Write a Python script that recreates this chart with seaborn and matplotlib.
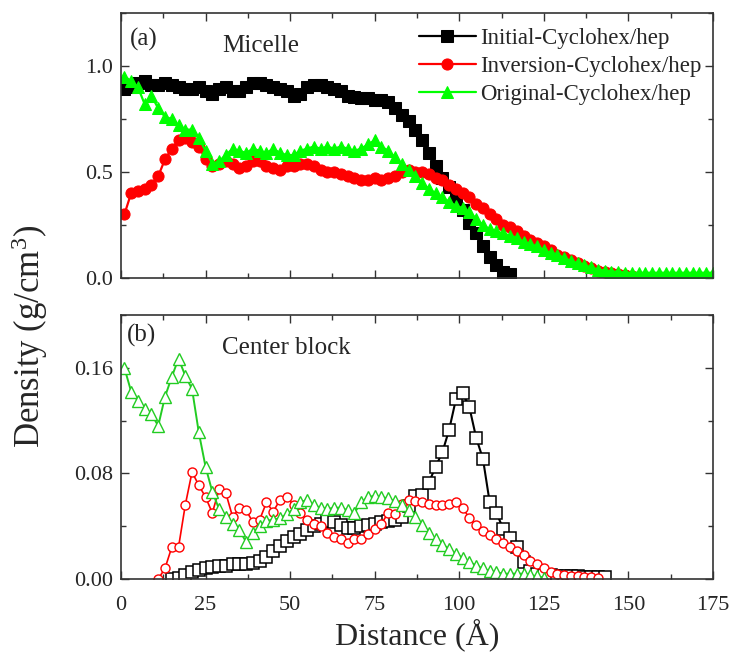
import numpy as np
import pandas as pd
import matplotlib
matplotlib.use("Agg")
import matplotlib.pyplot as plt
from matplotlib.ticker import MultipleLocator, FormatStrFormatter
import seaborn as sns

# ---------------- data ----------------
# (a) Micelle density profiles, 2 Å bins
micelle_initial = [0.89, 0.90, 0.92, 0.93, 0.91, 0.91, 0.92, 0.91, 0.90, 0.89,
                   0.89, 0.90, 0.88, 0.87, 0.89, 0.90, 0.88, 0.88, 0.90, 0.92,
                   0.92, 0.91, 0.90, 0.89, 0.88, 0.86, 0.87, 0.90, 0.91, 0.91,
                   0.90, 0.89, 0.88, 0.86, 0.855, 0.85, 0.85, 0.84, 0.84, 0.83,
                   0.80, 0.77, 0.74, 0.70, 0.65, 0.59, 0.53, 0.47, 0.43, 0.38,
                   0.32, 0.26, 0.21, 0.15, 0.10, 0.06, 0.03, 0.02]
micelle_inversion = [0.30, 0.40, 0.41, 0.42, 0.44, 0.48, 0.56, 0.61, 0.65, 0.66,
                     0.64, 0.62, 0.56, 0.53, 0.54, 0.55, 0.54, 0.52, 0.53, 0.55,
                     0.55, 0.53, 0.52, 0.51, 0.53, 0.53, 0.54, 0.54, 0.53, 0.51,
                     0.50, 0.50, 0.49, 0.48, 0.47, 0.46, 0.46, 0.47, 0.46, 0.47,
                     0.48, 0.50, 0.51, 0.50, 0.50, 0.49, 0.47, 0.46, 0.44, 0.42,
                     0.40, 0.38, 0.35, 0.33, 0.30, 0.28, 0.25, 0.24, 0.22, 0.20,
                     0.18, 0.165, 0.15, 0.13, 0.11, 0.10, 0.085, 0.07, 0.055, 0.045,
                     0.035, 0.028, 0.022, 0.018, 0.014, 0.010]
micelle_original = [0.95, 0.93, 0.90, 0.82, 0.86, 0.80, 0.76, 0.75, 0.72, 0.70,
                    0.70, 0.66, 0.60, 0.54, 0.55, 0.58, 0.61, 0.60, 0.59, 0.61,
                    0.60, 0.59, 0.61, 0.59, 0.58, 0.58, 0.60, 0.61, 0.62, 0.61,
                    0.62, 0.61, 0.62, 0.61, 0.60, 0.61, 0.63, 0.65, 0.62, 0.60,
                    0.57, 0.54, 0.51, 0.48, 0.45, 0.42, 0.40, 0.38, 0.36, 0.34,
                    0.33, 0.31, 0.28, 0.25, 0.23, 0.22, 0.21, 0.20, 0.19, 0.17,
                    0.16, 0.15, 0.13, 0.12, 0.11, 0.095, 0.08, 0.07, 0.06, 0.05,
                    0.04, 0.035, 0.03, 0.03, 0.025, 0.025, 0.025, 0.025, 0.025, 0.025,
                    0.025, 0.025, 0.025, 0.025, 0.025, 0.025, 0.025, 0.025]

# (b) Center block density profiles, 2 Å bins
center_initial = [0.000, 0.001, 0.003, 0.005, 0.007, 0.008, 0.009, 0.010, 0.010, 0.011,
                  0.011, 0.011, 0.012, 0.014, 0.017, 0.021, 0.025, 0.029, 0.032, 0.034,
                  0.037, 0.040, 0.042, 0.044, 0.043, 0.041, 0.039, 0.039, 0.040, 0.041,
                  0.042, 0.043, 0.044, 0.045, 0.047, 0.055, 0.063, 0.064, 0.073, 0.085,
                  0.096, 0.113, 0.136, 0.141, 0.130, 0.107, 0.091, 0.058, 0.050, 0.038,
                  0.031, 0.024, 0.013, 0.006, 0.004, 0.003, 0.003, 0.002, 0.002, 0.002,
                  0.002, 0.0015, 0.0015, 0.0015, 0.0015]
center_inversion = [0.000, 0.008, 0.024, 0.024, 0.056, 0.081, 0.071, 0.062, 0.050, 0.068,
                    0.065, 0.047, 0.054, 0.052, 0.043, 0.045, 0.058, 0.051, 0.060, 0.062,
                    0.056, 0.050, 0.045, 0.042, 0.040, 0.035, 0.032, 0.030, 0.027, 0.030,
                    0.030, 0.034, 0.038, 0.042, 0.050, 0.049, 0.057, 0.060, 0.059, 0.058,
                    0.057, 0.056, 0.056, 0.057, 0.058, 0.054, 0.046, 0.041, 0.036, 0.033,
                    0.030, 0.027, 0.024, 0.021, 0.018, 0.014, 0.011, 0.008, 0.005, 0.004,
                    0.003, 0.002, 0.002, 0.0015, 0.0015, 0.001]
center_original = [0.160, 0.142, 0.135, 0.129, 0.125, 0.116, 0.138, 0.153, 0.167, 0.154,
                   0.144, 0.111, 0.085, 0.066, 0.053, 0.047, 0.042, 0.037, 0.028, 0.035,
                   0.040, 0.044, 0.045, 0.046, 0.049, 0.053, 0.058, 0.060, 0.056, 0.054,
                   0.053, 0.054, 0.054, 0.052, 0.050, 0.058, 0.062, 0.063, 0.062, 0.061,
                   0.059, 0.056, 0.052, 0.047, 0.041, 0.035, 0.030, 0.026, 0.023, 0.019,
                   0.016, 0.013, 0.010, 0.008, 0.006, 0.005, 0.004, 0.004, 0.004, 0.004,
                   0.003, 0.002, 0.001]

# bin centres (Å)
x_mic_initial = np.arange(1, 1 + 2 * len(micelle_initial), 2)
x_mic_inversion = np.arange(1, 1 + 2 * len(micelle_inversion), 2)
x_mic_original = np.arange(1, 1 + 2 * len(micelle_original), 2)
x_cb_initial = np.arange(15, 15 + 2 * len(center_initial), 2)
x_cb_inversion = np.arange(11, 11 + 2 * len(center_inversion), 2)
x_cb_original = np.arange(1, 1 + 2 * len(center_original), 2)

labels = ["Initial-Cyclohex/hep", "Inversion-Cyclohex/hep", "Original-Cyclohex/hep"]

# ---------------- style ----------------
sns.set_style("ticks")
plt.rcParams["font.family"] = ["Liberation Serif", "DejaVu Serif"]
plt.rcParams["mathtext.fontset"] = "custom"
plt.rcParams["mathtext.rm"] = "Liberation Serif"
plt.rcParams["mathtext.it"] = "Liberation Serif:italic"
plt.rcParams["mathtext.default"] = "regular"

fig = plt.figure(figsize=(7.32, 6.56), dpi=100)
ax1 = fig.add_axes([0.1653, 0.5762, 0.8087, 0.4040])
ax2 = fig.add_axes([0.1653, 0.1174, 0.8087, 0.4024])

GREEN_TOP = "#00ff00"
GREEN_BOT = "#22cc22"

# ---- (a) Micelle ----
sns.lineplot(x=x_mic_initial, y=micelle_initial, ax=ax1, color="black", lw=1.6,
             marker="s", markersize=8, markeredgecolor="black", label=labels[0])
sns.lineplot(x=x_mic_inversion, y=micelle_inversion, ax=ax1, color="red", lw=1.6,
             marker="o", markersize=8, markeredgecolor="red", label=labels[1])
sns.lineplot(x=x_mic_original, y=micelle_original, ax=ax1, color=GREEN_TOP, lw=1.6,
             marker="^", markersize=9, markeredgecolor=GREEN_TOP, label=labels[2])

ax1.set_xlim(0, 175)
ax1.set_ylim(0, 1.25)
ax1.yaxis.set_major_locator(MultipleLocator(0.5))
ax1.yaxis.set_minor_locator(MultipleLocator(0.25))
ax1.yaxis.set_major_formatter(FormatStrFormatter("%.1f"))
ax1.text(0.015, 0.90, "(a)", transform=ax1.transAxes, fontsize=18, va="center", ha="left")
ax1.text(0.171, 0.875, "Micelle", transform=ax1.transAxes, fontsize=18, va="center", ha="left")
ax1.legend(loc="upper right", frameon=False, fontsize=16.5, handlelength=2.45,
           handletextpad=0.2, borderaxespad=0.1, labelspacing=0.3,
           bbox_to_anchor=(1.0, 0.985))

# ---- (b) Center block ----
sns.lineplot(x=x_cb_initial, y=center_initial, ax=ax2, color="black", lw=1.5,
             marker="s", markersize=8.5, markerfacecolor="white",
             markeredgecolor="black", markeredgewidth=1.1, legend=False)
sns.lineplot(x=x_cb_inversion, y=center_inversion, ax=ax2, color="red", lw=1.2,
             marker="o", markersize=6.5, markerfacecolor="white",
             markeredgecolor="red", markeredgewidth=1.0, legend=False)
sns.lineplot(x=x_cb_original, y=center_original, ax=ax2, color=GREEN_BOT, lw=1.4,
             marker="^", markersize=9, markerfacecolor="white",
             markeredgecolor=GREEN_BOT, markeredgewidth=1.0, legend=False)

ax2.set_xlim(0, 175)
ax2.set_ylim(0, 0.2)
ax2.yaxis.set_major_locator(MultipleLocator(0.08))
ax2.yaxis.set_minor_locator(MultipleLocator(0.04))
ax2.yaxis.set_major_formatter(FormatStrFormatter("%.2f"))
ax2.text(0.01, 0.924, "(b)", transform=ax2.transAxes, fontsize=18, va="center", ha="left")
ax2.text(0.171, 0.875, "Center block", transform=ax2.transAxes, fontsize=18,
         va="center", ha="left")

for ax in (ax1, ax2):
    ax.xaxis.set_major_locator(MultipleLocator(25))
    ax.xaxis.set_minor_locator(MultipleLocator(12.5))
    ax.tick_params(which="both", direction="in", top=True, right=True,
                   labelsize=16, width=1.0, color="#333333")
    ax.tick_params(which="major", length=6)
    ax.tick_params(which="minor", length=3.5)
    ax.tick_params(axis="x", pad=12)
    ax.tick_params(axis="y", pad=6)
    for sp in ax.spines.values():
        sp.set_linewidth(1.2)
        sp.set_color("#333333")
    ax.set_xlabel("")
    ax.set_ylabel("")

ax1.tick_params(axis="x", labelbottom=False)

fig.text(0.5697, 0.033, "Distance (Å)", fontsize=23, ha="center", va="center")
fig.text(0.040, 0.487, "Density (g/cm$^{3}$)", fontsize=25, rotation=90,
         ha="center", va="center")

fig.savefig("out.png", dpi=100)
